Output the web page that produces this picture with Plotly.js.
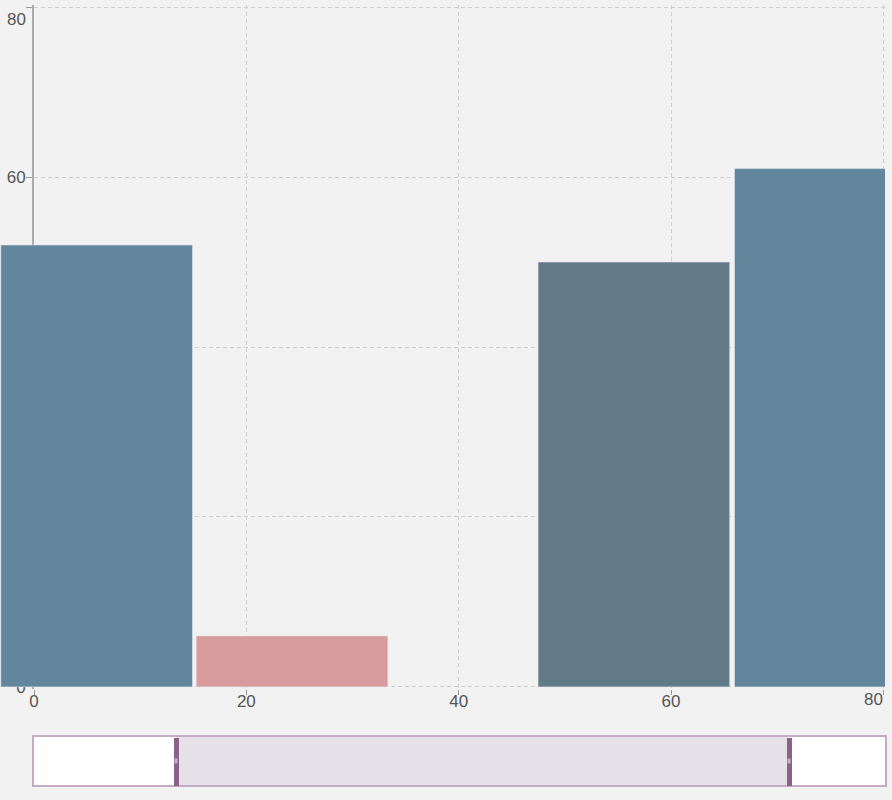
<!DOCTYPE html>
<html>
<head>
<meta charset="utf-8">
<script src="https://cdn.plot.ly/plotly-3.0.1.min.js"></script>
<style>
html, body { margin: 0; padding: 0; background: #f2f2f2; }
#chart { width: 892px; height: 800px; }
.rangeslider-mask-min, .rangeslider-mask-max { fill: #ffffff !important; fill-opacity: 1 !important; }
.rangeslider-handle-min, .rangeslider-handle-max { fill: #8a6189 !important; stroke: none !important; y: 0px; height: 48px; width: 5px; rx: 0; }
.rangeslider-grabarea-min, .rangeslider-grabarea-max { fill: #c7aec7 !important; y: 21px; height: 5px; width: 3px; x: 1px; }
</style>
</head>
<body>
<div id="chart"></div>
<script>
// ---- data ----
const xPositions = [5.9, 24.3, 56.5, 75.0];
const values = [52, 6, 50, 61];
const barColors = ['#62879c', '#d89b9e', '#637b86', '#62879c'];
const xTickVals = [0, 20, 40, 60, 80];
const xTickText = ['0', '20', '40', '60', '80'];
const yTickVals = [0, 20, 40, 60, 80];
const yTickText = ['0', '20', '40', '60', '80'];
const xRange = [0, 80.15];
const yRange = [-0.25, 80.25];
const sliderRange = [-18.66, 92.79];

// ---- layout geometry ----
const W = 892, H = 800;
const margin = { l: 0, r: 7, t: 5, b: 111, autoexpand: false };
const plotW = W - margin.l - margin.r;
const xDomain = [34 / plotW, 1];
const span = xRange[1] - xRange[0];
const unitsPerDomain = span / (xDomain[1] - xDomain[0]);
const x2Range = [xRange[0] - xDomain[0] * unitsPerDomain, xRange[1] + (1 - xDomain[1]) * unitsPerDomain];

const tickFont = { family: 'Liberation Sans, Arial, sans-serif', size: 17, color: '#555555' };
const gridStyle = { showgrid: true, gridcolor: '#cfcfcf', gridwidth: 1, griddash: '4px,3px' };

// the last label of each axis is pulled inside the chart, as in the reference
const lastX = xTickText.length - 1;
const lastY = yTickText.length - 1;
const xAxisText = xTickText.map((t, i) => (i === lastX ? '' : t));
const yAxisText = yTickText.map((t, i) => (i === lastY ? '' : t));

// invisible placeholder so the axis subplot carrying the range slider exists
const axisHolder = {
  type: 'scatter',
  mode: 'markers',
  x: [null],
  y: [null],
  xaxis: 'x',
  yaxis: 'y',
  hoverinfo: 'skip',
  showlegend: false
};

const bars = {
  type: 'bar',
  x: xPositions,
  y: values,
  xaxis: 'x2',
  yaxis: 'y2',
  width: 18.05,
  marker: { color: barColors, line: { color: 'rgba(225,232,238,0.55)', width: 1 } },
  hoverinfo: 'skip',
  showlegend: false
};

const layout = {
  width: W,
  height: H,
  margin: margin,
  paper_bgcolor: '#f2f2f2',
  plot_bgcolor: 'rgba(0,0,0,0)',
  showlegend: false,
  xaxis: Object.assign({
    domain: xDomain,
    anchor: 'y',
    range: xRange,
    autorange: false,
    tickmode: 'array',
    tickvals: xTickVals,
    ticktext: xAxisText,
    ticks: 'outside',
    ticklen: 32,
    tickwidth: 1,
    tickcolor: 'rgba(0,0,0,0)',
    ticklabelstandoff: -35,
    ticklabeloverflow: 'allow',
    tickfont: tickFont,
    zeroline: false,
    showline: false,
    layer: 'below traces',
    rangeslider: {
      visible: true,
      autorange: false,
      range: sliderRange,
      thickness: 0.0702,
      bgcolor: '#e6e0e8',
      bordercolor: '#c4aac4',
      borderwidth: 2
    }
  }, gridStyle),
  yaxis: Object.assign({
    domain: [0, 1],
    anchor: 'x',
    range: yRange,
    autorange: false,
    tickmode: 'array',
    tickvals: yTickVals,
    ticktext: yAxisText,
    ticks: 'outside',
    ticklen: 6,
    tickwidth: 1,
    tickcolor: '#999999',
    ticklabelstandoff: -3,
    ticklabeloverflow: 'allow',
    tickfont: tickFont,
    zeroline: false,
    showline: true,
    linecolor: '#ababab',
    linewidth: 2,
    layer: 'below traces'
  }, gridStyle),
  // axis of the bars: same data scale as xaxis, wider so bars may overflow left of the y axis
  xaxis2: {
    domain: [0, 1], anchor: 'y2', range: x2Range, autorange: false, fixedrange: true,
    tickmode: 'array', tickvals: xTickVals, ticks: 'outside', ticklen: 5, tickwidth: 1, tickcolor: '#999999',
    showticklabels: false, showgrid: false, zeroline: false, showline: false
  },
  yaxis2: { domain: [0, 1], anchor: 'x2', range: yRange, autorange: false, visible: false, fixedrange: true },
  bargap: 0,
  annotations: [
    {
      text: yTickText[lastY], xref: 'x', yref: 'y', x: xTickVals[0], y: yTickVals[lastY],
      xanchor: 'right', yanchor: 'middle', xshift: -6, yshift: -12, showarrow: false, font: tickFont
    },
    {
      text: xTickText[lastX], xref: 'x', yref: 'y', x: xTickVals[lastX], y: yTickVals[0],
      xanchor: 'right', yanchor: 'middle', xshift: 2, yshift: -13, showarrow: false, font: tickFont
    }
  ]
};

Plotly.newPlot('chart', [axisHolder, bars], layout, { displayModeBar: false, staticPlot: true });
</script>
</body>
</html>
